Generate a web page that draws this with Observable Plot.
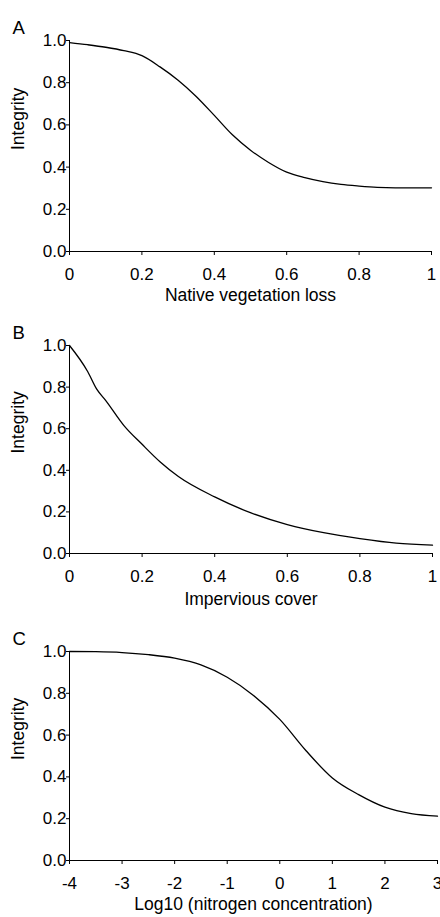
<!DOCTYPE html>
<html>
<head>
<meta charset="utf-8">
<script src="https://cdn.jsdelivr.net/npm/d3@7"></script>
<script src="https://cdn.jsdelivr.net/npm/@observablehq/plot@0.6"></script>
<style>
  html, body { margin: 0; padding: 0; background: #fff; }
  #chart svg { display: block; }
</style>
</head>
<body>
<div id="chart"></div>
<script>
// Panel A: native vegetation loss
const aX = [0, 0.05, 0.1, 0.15, 0.2, 0.25, 0.3, 0.35, 0.4, 0.45, 0.5, 0.55, 0.6, 0.65, 0.7, 0.75, 0.8, 0.85, 0.9, 0.95, 1];
const aY = [0.99, 0.98, 0.968, 0.952, 0.928, 0.875, 0.812, 0.735, 0.645, 0.553, 0.48, 0.422, 0.376, 0.35, 0.331, 0.318, 0.31, 0.304, 0.302, 0.302, 0.302];
// Panel B: impervious cover
const bX = [0, 0.05, 0.075, 0.1, 0.15, 0.2, 0.25, 0.3, 0.4, 0.5, 0.6, 0.7, 0.8, 0.9, 1];
const bY = [1.0, 0.875, 0.79, 0.735, 0.615, 0.525, 0.44, 0.37, 0.272, 0.195, 0.139, 0.1, 0.072, 0.05, 0.04];
// Panel C: log10 nitrogen concentration
const cX = [-4, -3.5, -3, -2.5, -2, -1.5, -1, -0.5, 0, 0.5, 1, 1.5, 2, 2.5, 3];
const cY = [1.0, 0.999, 0.995, 0.985, 0.968, 0.936, 0.877, 0.79, 0.675, 0.525, 0.395, 0.315, 0.255, 0.224, 0.212];

const letters = ["A", "B", "C"];
const xLabels = ["Native vegetation loss", "Impervious cover", "Log10 (nitrogen concentration)"];
const yLabel = "Integrity";
const xTicksAB = [0, 0.2, 0.4, 0.6, 0.8, 1];
const xTicksC = [-4, -3, -2, -1, 0, 1, 2, 3];
const yTicks = [0, 0.2, 0.4, 0.6, 0.8, 1.0];

const FONT = "'Liberation Sans', Arial, Helvetica, sans-serif";

function panel({letter, xs, ys, xDomain, xTicks, xLabel, height, marginTop, marginBottom, marginRight, labelDy}) {
  const data = xs.map((x, i) => ({x, y: ys[i]}));
  return Plot.plot({
    width: 440,
    height,
    marginLeft: 69,
    marginRight,
    marginTop,
    marginBottom,
    style: {fontFamily: FONT, fontSize: "17px", color: "#000", background: "#fff", overflow: "visible"},
    x: {domain: xDomain},
    y: {domain: [0, 1]},
    marks: [
      Plot.axisX({ticks: xTicks, tickFormat: d => String(d), tickSize: 4, tickPadding: 12, label: null, stroke: "#000"}),
      Plot.axisY({ticks: yTicks, tickFormat: d3.format(".1f"), tickSize: 3, tickPadding: 0, label: null, stroke: "#000"}),
      Plot.ruleX([xDomain[0]], {stroke: "#000", strokeWidth: 1}),
      Plot.ruleY([0], {stroke: "#000", strokeWidth: 1}),
      Plot.line(data, {x: "x", y: "y", stroke: "#000", strokeWidth: 1.3, curve: "monotone-x"}),
      Plot.text([letter], {frameAnchor: "top-left", textAnchor: "start", lineAnchor: "bottom", dx: -57, dy: -7, fontSize: 18.5, fill: "#000"}),
      Plot.text([yLabel], {frameAnchor: "left", rotate: -90, dx: -51, dy: 4, fontSize: 17.5, fill: "#000"}),
      Plot.text([xLabel], {frameAnchor: "bottom", dy: labelDy, fontSize: 17.5, fill: "#000"})
    ]
  });
}

const chart = document.getElementById("chart");
chart.append(panel({letter: letters[0], xs: aX, ys: aY, xDomain: [0, 1], xTicks: xTicksAB, xLabel: xLabels[0], height: 312, marginTop: 40, marginBottom: 61, marginRight: 9, labelDy: 49}));
chart.append(panel({letter: letters[1], xs: bX, ys: bY, xDomain: [0, 1], xTicks: xTicksAB, xLabel: xLabels[1], height: 306, marginTop: 33, marginBottom: 65, marginRight: 8, labelDy: 51}));
chart.append(panel({letter: letters[2], xs: cX, ys: cY, xDomain: [-4, 3], xTicks: xTicksC, xLabel: xLabels[2], height: 299, marginTop: 33, marginBottom: 57, marginRight: 3, labelDy: 49}));
</script>
</body>
</html>
